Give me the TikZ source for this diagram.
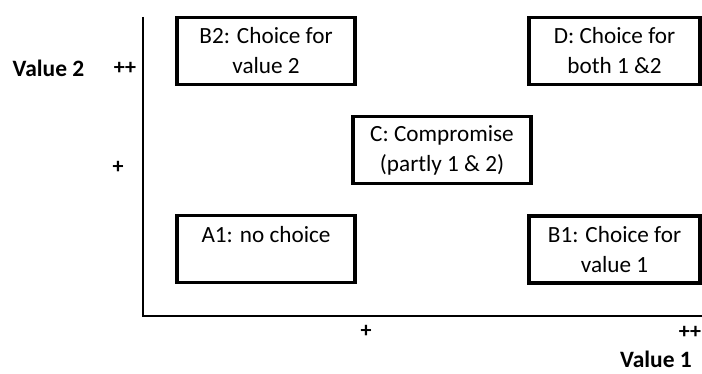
\documentclass[tikz,border=0pt]{standalone}
\usepackage{fontspec}
\setmainfont{Carlito}
\begin{document}
\begin{tikzpicture}[x=0.75pt,y=-0.75pt,
  choice/.style={draw,line width=2.6pt,minimum width=178*0.75pt,minimum height=67*0.75pt,
    inner sep=0pt,align=center,font=\fontsize{17.4}{22.5}\selectfont},
  tick/.style={font=\bfseries\fontsize{16.5}{18}\selectfont,inner sep=0pt},
  axislabel/.style={font=\bfseries\fontsize{17.6}{20}\selectfont,inner sep=0pt}]
	\useasboundingbox (0,0) rectangle (702,374);
	% axes
	\coordinate (top) at (143,17);
	\coordinate (right) at (702,316);
	\draw[line width=1.9pt] (top) |- (right);

	% boxes
	\node[choice] (b2) at (266,51) {B2: Choice for\\value 2};
	\node[choice,minimum width=171*0.75pt] (d) at (614.5,51) {D: Choice for\\both 1 \&2};
	\node[choice] (c) at (442,150) {C: Compromise\\(partly 1 \& 2)};
	\node[choice] (a1) at (266,249) {A1: no choice\\\mbox{}};
	\node[choice,minimum width=171*0.75pt] (b1) at (614.5,249.5) {B1: Choice for\\value 1};

	% scale labels
	\node[axislabel] (v2) at (48.5,68) {Value 2};
	\node[tick] (y2) at (125,68) {++};
	\node[tick] (y1) at (118,167) {+};
	\node[tick] (x1) at (366,331) {+};
	\node[tick] (x2) at (690,332) {++};
	\node[axislabel] (v1) at (656,359) {Value 1};
\end{tikzpicture}
\end{document}
